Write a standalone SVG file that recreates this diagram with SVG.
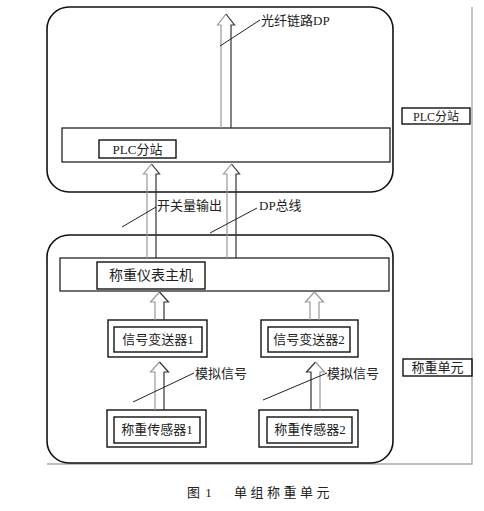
<svg xmlns="http://www.w3.org/2000/svg" width="484" height="511" viewBox="0 0 484 511">
<style>
.frame{fill:none;stroke:#111;stroke-width:1.6}
.box{fill:none;stroke:#111;stroke-width:1.4}
.bar{fill:#fff;stroke:#111;stroke-width:1.2}
.gray{fill:none;stroke:#aaa;stroke-width:1.4}
.arl{fill:none;stroke:#999;stroke-width:1.2}
.arr{fill:none;stroke:#333;stroke-width:1.2}
.lead{fill:none;stroke:#222;stroke-width:1}
text{font-family:"Liberation Serif","Noto Sans CJK SC",serif;fill:#222}
.t14{font-size:14px}
.t13{font-size:13px}
.t12{font-size:12px}
</style>
<rect width="484" height="511" fill="#fff"/>
<g id="outer-frame">
<polyline class="gray" points="47,464 472,464 472,7"/>
</g>
<g id="plc-group">
<rect class="frame" x="47" y="7" width="346" height="185" rx="22"/>
<rect class="bar" x="62" y="128" width="328" height="34"/>
<rect class="box" x="99" y="140" width="77" height="18"/>
<text class="t13" x="137.5" y="154" text-anchor="middle">PLC分站</text>
</g>
<g id="weigh-group">
<rect class="frame" x="47" y="235" width="346" height="228" rx="22"/>
</g>
<g id="host">
<rect class="bar" x="60" y="258" width="329" height="33"/>
<rect class="box" x="97" y="262" width="108" height="27"/>
<text class="t14" x="151" y="280" text-anchor="middle">称重仪表主机</text>
</g>
<g id="tx1">
<rect class="box" x="108" y="320" width="99" height="37"/>
<rect class="box" x="114" y="327" width="88" height="25"/>
<text class="t13" x="158" y="344" text-anchor="middle">信号变送器1</text>
</g>
<g id="tx2">
<rect class="box" x="261" y="320" width="97" height="37"/>
<rect class="box" x="268" y="327" width="82" height="25"/>
<text class="t13" x="309" y="344" text-anchor="middle">信号变送器2</text>
</g>
<g id="s1">
<rect class="box" x="107" y="410" width="99" height="37"/>
<rect class="box" x="114" y="417" width="86" height="26"/>
<text class="t13" x="157" y="434" text-anchor="middle">称重传感器1</text>
</g>
<g id="s2">
<rect class="box" x="259" y="410" width="99" height="37"/>
<rect class="box" x="267" y="417" width="85" height="26"/>
<text class="t13" x="310" y="434" text-anchor="middle">称重传感器2</text>
</g>
<g id="label-plc">
<rect class="box" x="402" y="108" width="68" height="16"/>
<text class="t12" x="436" y="121" text-anchor="middle">PLC分站</text>
</g>
<g id="label-unit">
<rect class="box" x="403" y="359" width="69" height="17"/>
<text class="t13" x="437.5" y="372" text-anchor="middle">称重单元</text>
</g>
<g id="connectors">
<path class="arl" d="M221,128 V25 H217.5 L226,14"/>
<path class="arr" d="M226,14 L234.5,25 H231 V128"/>
<path class="arl" d="M147,258 V174 H143.5 L151.5,164"/>
<path class="arr" d="M151.5,164 L159.5,174 H156 V258"/>
<path class="arl" d="M227,258 V174 H223.5 L231.5,164"/>
<path class="arr" d="M231.5,164 L239.5,174 H236 V258"/>
<path class="arl" d="M155,320 V302 H150.5 L159.5,292"/>
<path class="arr" d="M159.5,292 L168.5,302 H164 V320"/>
<path class="arl" d="M310,320 V302 H305.5 L314.5,292"/>
<path class="arl" d="M314.5,292 L323.5,302 H319 V320"/>
<path class="arl" d="M155,410 V372 H150.5 L159.5,362"/>
<path class="arr" d="M159.5,362 L168.5,372 H164 V410"/>
<path class="arr" d="M311,410 V372 H306.5 L315.5,362"/>
<path class="arl" d="M315.5,362 L324.5,372 H320 V410"/>
<line class="lead" x1="220" y1="46" x2="260" y2="20"/>
<line class="lead" x1="122" y1="227" x2="156" y2="207"/>
<line class="lead" x1="210" y1="233" x2="257" y2="208"/>
<line class="lead" x1="133" y1="402" x2="194" y2="373"/>
<line class="lead" x1="263" y1="400" x2="327" y2="373"/>
</g>
<g id="labels">
<text class="t13" x="261" y="25">光纤链路DP</text>
<text class="t13" x="157" y="210">开关量输出</text>
<text class="t13" x="259" y="210">DP总线</text>
<text class="t13" x="195" y="378">模拟信号</text>
<text class="t13" x="327" y="378">模拟信号</text>
</g>
<g id="caption">
<text class="t13" x="187" y="497" letter-spacing="1">图 1</text>
<text class="t13" x="234" y="497" letter-spacing="3.5">单组称重单元</text>
</g>
</svg>
